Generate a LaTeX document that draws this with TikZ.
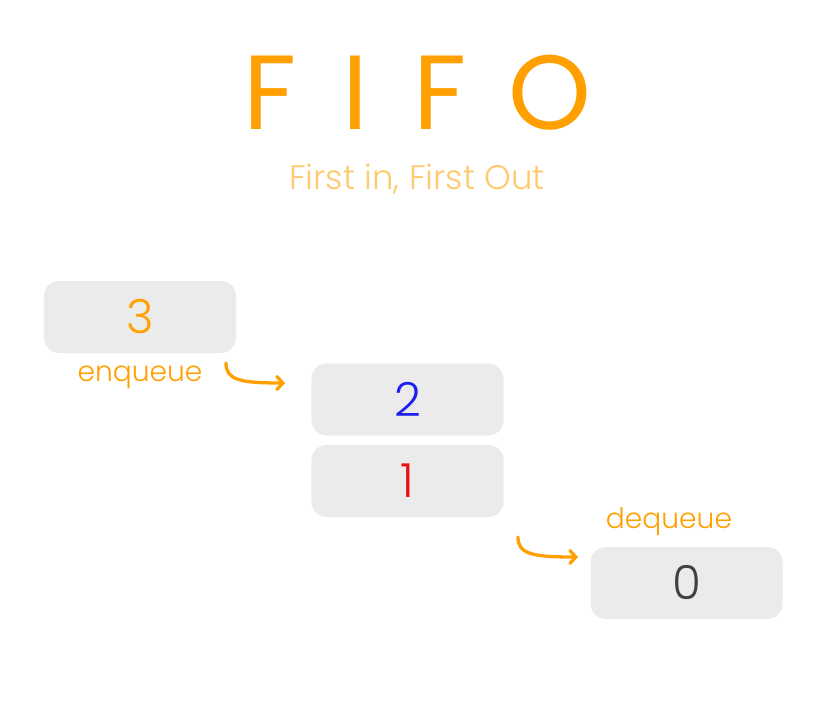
\documentclass[tikz,border=0pt]{standalone}
\usepackage{fontspec}
\setmainfont{Poppins}[UprightFont=* Light]
\newfontfamily\titlefont{Poppins}
\usetikzlibrary{arrows.meta}
\definecolor{fifoorange}{HTML}{FFA000}
\definecolor{fifolight}{HTML}{FFCA6E}
\definecolor{boxgrey}{HTML}{EBEBEB}
\definecolor{numblue}{HTML}{1F1FF0}
\definecolor{numred}{HTML}{E81010}
\definecolor{numdark}{HTML}{404040}
\tikzset{
  slot/.style={fill=boxgrey, rounded corners=13pt, minimum width=5.76cm, minimum height=2.16cm, inner sep=0pt, font=\fontsize{40}{40}\selectfont},
  oplabel/.style={text=fifoorange, inner sep=1pt, font=\fontsize{24}{24}\selectfont},
  oparrow/.style={draw=fifoorange, line width=2.8pt, line cap=round, -{Straight Barb[length=5pt,width=11pt,line cap=round]}}
}
\begin{document}
\begin{tikzpicture}[x=0.03cm,y=-0.03cm]
  \useasboundingbox (0,0) rectangle (830,715);
  \foreach \l/\px [count=\i] in {F/270,I/355,F/440,O/550} {
    \node[text=fifoorange, inner sep=0pt, font=\titlefont\fontsize{90}{90}\selectfont] (title\i) at (\px,93) {\l};
  }
  \node[text=fifolight, inner sep=1pt, font=\fontsize{29}{29}\selectfont] (subtitle) at (417,179) {First in, First Out};
  \node[slot, text=fifoorange] (item3) at (140,317) {3};
  \node[slot, text=numblue] (item2) at (407.5,399.5) {2};
  \node[slot, text=numred] (item1) at (407.5,481) {1};
  \node[slot, text=numdark] (item0) at (686.5,583) {0};
  \node[oplabel] (enq) at (140,377) {enqueue};
  \node[oplabel] (deq) at (669,522) {dequeue};
  \coordinate (enqstart) at (226,363);
  \coordinate (enqend) at (285,383);
  \coordinate (deqstart) at (518,537);
  \coordinate (deqend) at (578,557);
  \draw[oparrow] (enqstart) .. controls (226,380) and (240,383) .. (enqend);
  \draw[oparrow] (deqstart) .. controls (518,554) and (532,557) .. (deqend);
\end{tikzpicture}
\end{document}
